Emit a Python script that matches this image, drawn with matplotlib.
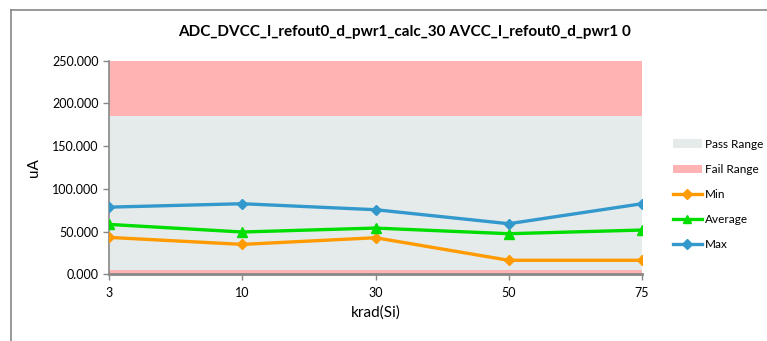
import matplotlib
matplotlib.use("Agg")
import matplotlib.pyplot as plt
from matplotlib.lines import Line2D
from matplotlib.patches import Patch

plt.rcParams['font.family'] = ['Lato', 'DejaVu Sans']

categories = ["3", "10", "30", "50", "75"]
min_vals = [43.2, 35.0, 42.8, 16.4, 16.4]
avg_vals = [58.4, 49.5, 54.1, 47.5, 51.8]
max_vals = [78.6, 82.6, 75.6, 59.2, 82.6]
pass_low, pass_high = 5.0, 185.0
fail_top = 250.0
yticks = [0, 50, 100, 150, 200, 250]

W, H = 767, 341
fig = plt.figure(figsize=(W / 100, H / 100), dpi=100)
ax = fig.add_axes([109 / W, 1 - 274.3 / H, (642 - 109) / W, (274.3 - 60.7) / H])

x = list(range(len(categories)))
ax.axhspan(pass_low, pass_high, color="#E5EBEB", lw=0, zorder=0)
ax.axhspan(pass_high, fail_top, color="#FFB3B3", lw=0, zorder=0)
ax.axhspan(0, pass_low, color="#FFB3B3", lw=0, zorder=0)

ax.plot(x, min_vals, color="#FF9A00", lw=2.4, marker="D", ms=5.5, zorder=3)
ax.plot(x, avg_vals, color="#00DD00", lw=2.4, marker="^", ms=7, zorder=3)
ax.plot(x, max_vals, color="#3399CC", lw=2.4, marker="D", ms=5.5, zorder=3)

ax.set_xlim(0, len(categories) - 1)
ax.set_ylim(0, 250)
ax.set_xticks(x)
ax.set_xticklabels(categories, fontsize=9)
ax.set_yticks(yticks)
ax.set_yticklabels([f"{v:.3f}" for v in yticks], fontsize=9)
ax.tick_params(axis="both", color="#888888", length=4, width=1)
ax.tick_params(axis="x", pad=5)
for s in ["top", "right"]:
    ax.spines[s].set_visible(False)
ax.spines["left"].set_color("#888888")
ax.spines["left"].set_linewidth(1.2)
ax.spines["bottom"].set_color("#888888")
ax.spines["bottom"].set_linewidth(2)

ax.set_ylabel("uA", fontsize=11, labelpad=8)
ax.set_xlabel("krad(Si)", fontsize=11, labelpad=5)
fig.text(405 / W, 1 - 32 / H, "ADC_DVCC_I_refout0_d_pwr1_calc_30 AVCC_I_refout0_d_pwr1 0",
         ha="center", va="center", fontsize=11, fontweight="bold")

handles = [
    Patch(facecolor="#E5EBEB", edgecolor="none"),
    Patch(facecolor="#FFB3B3", edgecolor="none"),
    Line2D([], [], color="#FF9A00", lw=2.4, marker="D", ms=5),
    Line2D([], [], color="#00DD00", lw=2.4, marker="^", ms=6),
    Line2D([], [], color="#3399CC", lw=2.4, marker="D", ms=5),
]
labels = ["Pass Range", "Fail Range", "Min", "Average", "Max"]
fig.legend(handles, labels, loc="upper left", bbox_to_anchor=(668 / W, 1 - 134 / H),
           frameon=False, fontsize=8.5, handlelength=2.5, labelspacing=1.2,
           handletextpad=0.2, borderaxespad=0)

fig.add_artist(Line2D([10.5 / W, 1], [1 - 9.5 / H, 1 - 9.5 / H], color="#888888", lw=1.2))
fig.add_artist(Line2D([10.5 / W, 10.5 / W], [0, 1 - 9.5 / H], color="#888888", lw=1.2))

fig.savefig("out.png", dpi=100, facecolor="white")
